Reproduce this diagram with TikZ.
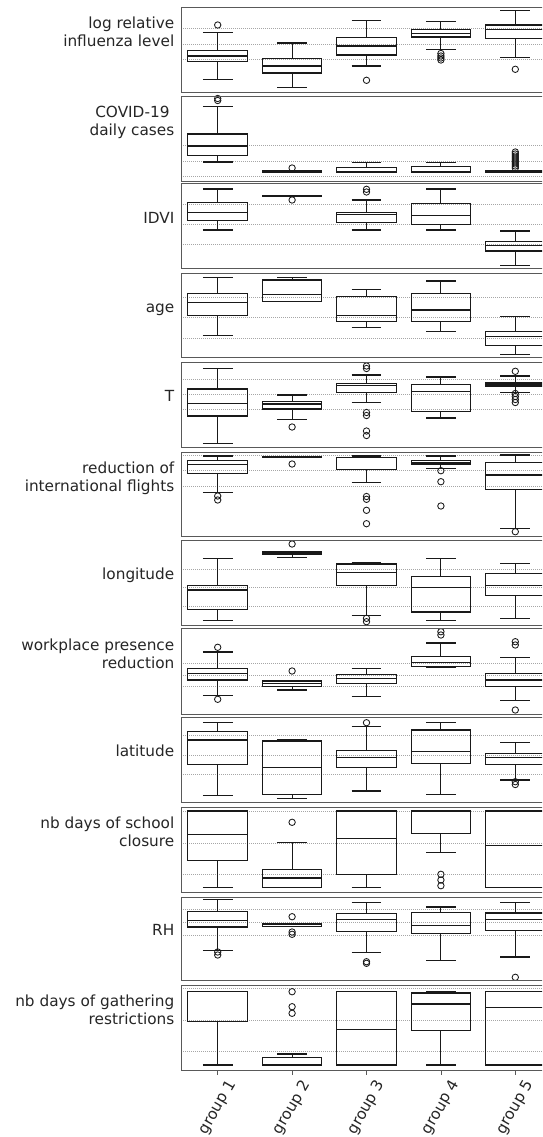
\documentclass[tikz,border=0pt]{standalone}
\usepackage{fontspec}
\setmainfont{DejaVu Sans}
\newcommand{\bxp}[6]{%
  \pgfmathsetmacro{\cx}{217.7+74.4*(#1-1)}%
  \draw[bxl] (\cx,#3) -- (\cx,#2);
  \draw[bxl] (\cx,#5) -- (\cx,#6);
  \draw[bxl] (\cx-14.9,#2) -- (\cx+14.9,#2);
  \draw[bxl] (\cx-14.9,#6) -- (\cx+14.9,#6);
  \draw[bxl] (\cx-29.8,#3) rectangle (\cx+29.8,#5);
  \draw[bxl] (\cx-29.8,#4) -- (\cx+29.8,#4);
}
\newcommand{\outs}[2]{%
  \pgfmathsetmacro{\cx}{217.7+74.4*(#1-1)}%
  \foreach \o in {#2} {\draw[outl] (\cx,\o) circle[radius=3.2pt];}
}
\newcommand{\gridls}[1]{\foreach \g in {#1} {\draw[gridl] (181,\g) -- (542,\g);}}
\begin{document}
\begin{tikzpicture}[x=1pt,y=-1pt,
  bxl/.style={line width=1.05pt, draw=black!90},
  outl/.style={line width=0.85pt, draw=black!90},
  gridl/.style={draw=gray!70, line width=0.55pt, dash pattern=on 1pt off 1pt},
  frm/.style={draw=black!65, line width=0.8pt},
  lab/.style={anchor=base east, inner sep=0pt, text=black!85, font=\fontsize{15.3}{18}\selectfont},
  tickm/.style={draw=black!65, line width=0.8pt},
  tlab/.style={rotate=60, anchor=center, inner sep=0pt, text=black!85, font=\fontsize{15.3}{18}\selectfont}]
\useasboundingbox (0,0) rectangle (542,1137);
\clip (0,0) rectangle (542,1137);
\fill[white] (0,0) rectangle (542,1137);

% grid lines
\gridls{28.3,44,59.3}
\gridls{145.7,161,176}
\gridls{204.3,224.3,244.3}
\gridls{297.7,317.7,338}
\gridls{379,394.7,409}
\gridls{455,470.7,486}
\gridls{569.7,587.3,606.3}
\gridls{663.5,675,686.5}
\gridls{735.3,755.3,774.7}
\gridls{811.7,843.3,874.7}
\gridls{909.3,922.3,935.7}
\gridls{988.3,1020,1051.7}

% P1 log relative influenza level
\bxp{1}{32.7}{50.7}{56}{61.7}{79.7} \outs{1}{25}
\bxp{2}{43}{58.7}{66}{73}{87.3}
\bxp{3}{20.7}{37.3}{46}{55}{66} \outs{3}{80.3}
\bxp{4}{21.7}{29.3}{33.3}{37}{49.3} \outs{4}{53.5,56,58,60}
\bxp{5}{10.7}{25}{29.7}{38.3}{57.3} \outs{5}{69.3}

% P2 COVID-19 daily cases
\bxp{1}{106.3}{134}{146}{155.3}{162} \outs{1}{98.5,100.5}
\bxp{2}{171.5}{171}{171.5}{172}{171.5} \outs{2}{168}
\bxp{3}{162.7}{167.3}{172}{172.3}{172.3}
\bxp{4}{162.7}{166.3}{171.5}{172.3}{172.3}
\bxp{5}{171}{170.7}{171.7}{172.3}{172.3} \outs{5}{152,154,156,158,160,162,164,166,168}

% P3 IDVI
\bxp{1}{189}{202.3}{212.3}{220.3}{230}
\bxp{2}{195.7}{195.2}{195.7}{196.2}{195.7} \outs{2}{200}
\bxp{3}{200}{212.3}{214.3}{222.3}{230} \outs{3}{189.3,192}
\bxp{4}{189}{203.3}{215.3}{224.3}{230}
\bxp{5}{231}{241.3}{245.7}{251}{265.3}

% P4 age
\bxp{1}{277.7}{293.3}{302.3}{315.7}{335.3}
\bxp{2}{277.7}{280}{294.3}{301.3}{301.3}
\bxp{3}{289.7}{296.7}{315.7}{321.3}{327.7}
\bxp{4}{281}{293.3}{310}{321.3}{331.3}
\bxp{5}{316.7}{331.7}{336.3}{345.7}{354.3}

% P5 T
\bxp{1}{368.3}{389}{403.7}{416}{443.7}
\bxp{2}{395}{401.7}{404}{409}{419.3} \outs{2}{427}
\bxp{3}{375}{383.7}{385.7}{392.3}{402.7} \outs{3}{366,368.5,412.5,415.5,431,435.5}
\bxp{4}{377}{384.7}{391.3}{411.3}{418}
\bxp{5}{376}{382.3}{384}{386}{392.7} \outs{5}{371.3,393.5,396.5,399.5,402.5}

% P6 reduction of international flights
\bxp{1}{456}{460.7}{464.3}{473.7}{492.7} \outs{1}{496,500}
\bxp{2}{457.3}{456.8}{457.3}{457.8}{457.3} \outs{2}{464}
\bxp{3}{456}{457.3}{457.3}{469.3}{482.7} \outs{3}{496.5,499.3,510.3,523.7}
\bxp{4}{456}{460.7}{462.3}{464}{468.3} \outs{4}{470.7,481.7,506}
\bxp{5}{455}{462.7}{475}{489.3}{528.3} \outs{5}{531.7}

% P7 longitude
\bxp{1}{558.7}{585.3}{590}{609.7}{620.7}
\bxp{2}{552}{552}{553}{554}{557.3} \outs{2}{544}
\bxp{3}{563}{564}{572.7}{585.3}{615.3} \outs{3}{618.3,621.7}
\bxp{4}{558.7}{576.3}{587.3}{612}{620.7}
\bxp{5}{563.7}{573.3}{585.3}{595.3}{618.7}

% P8 workplace presence reduction
\bxp{1}{652}{668.7}{673.3}{680}{695.3} \outs{1}{647.3,699.3}
\bxp{2}{680.3}{681}{683.7}{686.3}{690} \outs{2}{671}
\bxp{3}{668.7}{674.3}{678.7}{683.7}{696.3}
\bxp{4}{643}{656.7}{662.3}{666.7}{667.3} \outs{4}{631.7,635}
\bxp{5}{657.7}{673.3}{680}{686.3}{700.7} \outs{5}{641.7,645,710}

% P9 latitude
\bxp{1}{722.3}{731.3}{740}{764.3}{795.3}
\bxp{2}{740}{741}{767.7}{794.3}{798.7}
\bxp{3}{726.3}{750.3}{757.7}{767.7}{791} \outs{3}{722.7}
\bxp{4}{722.3}{730}{751.3}{763.3}{794.3}
\bxp{5}{742.3}{753.7}{757.7}{764.3}{780} \outs{5}{781.7,784.5}

% P10 nb days of school closure
\bxp{1}{811}{811}{834.7}{860.3}{887.7}
\bxp{2}{842.3}{869.3}{878}{887.7}{887.7} \outs{2}{822.3}
\bxp{3}{811}{811}{838.7}{874.3}{887.7}
\bxp{4}{811}{811}{811}{833.3}{852.3} \outs{4}{874.3,880,885.7}
\bxp{5}{811}{811}{845.7}{887.7}{887.7}

% P11 RH
\bxp{1}{899.3}{911.7}{920.7}{927}{950.3} \outs{1}{952,955}
\bxp{2}{923.3}{923.3}{924.3}{926.7}{926.7} \outs{2}{916.7,932,934.3}
\bxp{3}{902.7}{913.7}{919.3}{931.7}{952.7} \outs{3}{961.7,963.3}
\bxp{4}{907}{912.7}{925.7}{933.7}{960.7}
\bxp{5}{902.7}{913}{919.3}{930.3}{957} \outs{5}{977.3}

% P12 nb days of gathering restrictions
\bxp{1}{991.7}{991.7}{991.7}{1021.7}{1065}
\bxp{2}{1054}{1057.3}{1065}{1065}{1065} \outs{2}{991.7,1006.7,1013.3}
\bxp{3}{991.7}{991.7}{1029.3}{1065}{1065}
\bxp{4}{991.7}{993}{1004}{1030.7}{1065}
\bxp{5}{991.7}{991.7}{1007.3}{1065}{1065}

% panel frames
\foreach \t/\b in {7/92,96/181,183/268,273/357,362/447,452/536,540/625,628/714,717/802,807/892,897/980,985/1070}
  {\draw[frm] (181,\t) rectangle (552,\b);}

% y labels
\node[lab] (l1a) at (174.5,28.8) {log relative};
\node[lab] (l1b) at (174.5,46.5) {influenza level};
\node[lab] (l2a) at (174.5,117.8) {COVID-19\kern4.8pt};
\node[lab] (l2b) at (174.5,135.5) {daily cases};
\node[lab] (l3) at (174.5,223.5) {IDVI};
\node[lab] (l4) at (174.5,312) {age};
\node[lab] (l5) at (174.5,401.5) {T};
\node[lab] (l6a) at (174.5,473.3) {reduction of};
\node[lab] (l6b) at (174.5,491) {international flights};
\node[lab] (l7) at (174.5,579.5) {longitude};
\node[lab] (l8a) at (174.5,650.3) {workplace presence};
\node[lab] (l8b) at (174.5,668) {reduction};
\node[lab] (l9) at (174.5,756.5) {latitude};
\node[lab] (l10a) at (174.5,828.8) {nb days of school};
\node[lab] (l10b) at (174.5,846.5) {closure};
\node[lab] (l11) at (174.5,935.5) {RH};
\node[lab] (l12a) at (174.5,1006.8) {nb days of gathering};
\node[lab] (l12b) at (174.5,1024.5) {restrictions};

% x ticks and labels
\foreach \i in {1,...,5} {
  \pgfmathsetmacro{\tx}{217.7+74.4*(\i-1)}
  \draw[tickm] (\tx,1070) -- (\tx,1075);
  \node[tlab] (t\i) at (\tx,1107.5) {group \i};
}
\end{tikzpicture}
\end{document}
